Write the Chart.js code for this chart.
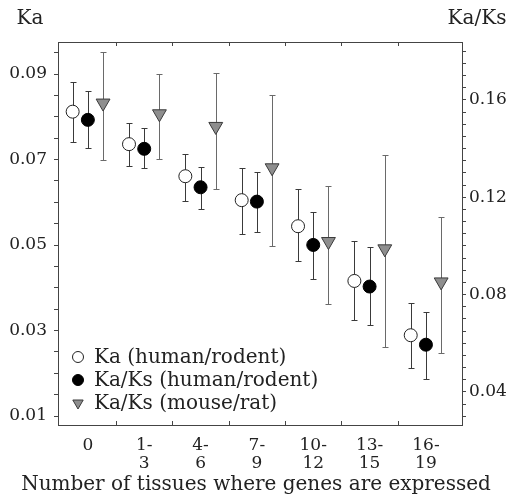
<!DOCTYPE html>
<html>
<head>
<meta charset="utf-8">
<script src="https://cdn.jsdelivr.net/npm/chart.js@4/dist/chart.umd.min.js"></script>
<style>
  html, body { margin: 0; padding: 0; background: #fff; }
  #wrap { width: 511px; height: 497px; }
</style>
</head>
<body>
<div id="wrap"><canvas id="c"></canvas></div>
<script>
// ── Data ────────────────────────────────────────────
const categories = [['0'], ['1-', '3'], ['4-', '6'], ['7-', '9'], ['10-', '12'], ['13-', '15'], ['16-', '19']];

// Ka (human/rodent) — left axis
const kaHR     = [0.0812, 0.0736, 0.0661, 0.0605, 0.0544, 0.0416, 0.0289];
const kaHRLo   = [0.0740, 0.0686, 0.0604, 0.0526, 0.0463, 0.0325, 0.0212];
const kaHRHi   = [0.0882, 0.0785, 0.0713, 0.0681, 0.0630, 0.0509, 0.0365];

// Ka/Ks (human/rodent) — right axis
const kaksHR   = [0.1518, 0.1399, 0.1241, 0.1182, 0.1004, 0.0833, 0.0594];
const kaksHRLo = [0.1404, 0.1322, 0.1151, 0.1059, 0.0863, 0.0675, 0.0452];
const kaksHRHi = [0.1637, 0.1484, 0.1323, 0.1305, 0.1141, 0.0995, 0.0730];

// Ka/Ks (mouse/rat) — right axis
const kaksMR   = [0.1587, 0.1543, 0.1491, 0.1321, 0.1018, 0.0988, 0.0852];
const kaksMRLo = [0.1353, 0.1356, 0.1234, 0.1001, 0.0762, 0.0586, 0.0559];
const kaksMRHi = [0.1796, 0.1706, 0.1710, 0.1621, 0.1247, 0.1374, 0.1120];

const leftTickLabels  = ['0.01', '0.03', '0.05', '0.07', '0.09'];
const rightTickLabels = ['0.04', '0.08', '0.12', '0.16'];

const seriesNames = ['Ka (human/rodent)', 'Ka/Ks (human/rodent)', 'Ka/Ks (mouse/rat)'];
const xTitle = 'Number of tissues where genes are expressed';

// ── Helpers ─────────────────────────────────────────
const FONT = '"DejaVu Serif", serif';
const INK  = '#222';
const AXIS = '#444';

function pts(vals, off) { return vals.map((v, i) => ({ x: i + off, y: v })); }

function minorTicks(from, to, step) {
  const out = [];
  for (let v = from; v <= to + 1e-9; v += step) out.push({ value: +v.toFixed(4) });
  return out;
}

// error bars, frame, titles, legend
const errorBars = {
  id: 'errorBars',
  beforeDatasetsDraw(chart) {
    const { ctx } = chart;
    const xs = chart.scales.x;
    chart.data.datasets.forEach(ds => {
      const ys = chart.scales[ds.yAxisID];
      ctx.save();
      ctx.strokeStyle = ds.barColor;
      ctx.lineWidth = 1;
      ds.data.forEach((p, i) => {
        const x  = Math.round(xs.getPixelForValue(p.x)) + 0.5;
        const y1 = Math.round(ys.getPixelForValue(ds.errLo[i])) + 0.5;
        const y2 = Math.round(ys.getPixelForValue(ds.errHi[i])) + 0.5;
        ctx.beginPath();
        ctx.moveTo(x, y1); ctx.lineTo(x, y2);
        ctx.moveTo(x - 3, y1); ctx.lineTo(x + 3, y1);
        ctx.moveTo(x - 3, y2); ctx.lineTo(x + 3, y2);
        ctx.stroke();
      });
      ctx.restore();
    });
  },
  afterDraw(chart) {
    const { ctx, chartArea: a } = chart;
    const xs = chart.scales.x;
    ctx.save();
    // top frame line
    ctx.strokeStyle = AXIS;
    ctx.lineWidth = 1;
    ctx.beginPath();
    ctx.moveTo(a.left, a.top + 0.5); ctx.lineTo(a.right, a.top + 0.5);
    // group separators on top / bottom edges
    for (let i = 0; i < categories.length - 1; i++) {
      const x = Math.round(xs.getPixelForValue(i + 0.5)) + 0.5;
      ctx.moveTo(x, a.top); ctx.lineTo(x, a.top + 4);
      ctx.moveTo(x, a.bottom); ctx.lineTo(x, a.bottom - 4);
    }
    ctx.stroke();

    // axis titles
    ctx.fillStyle = INK;
    ctx.font = `20px ${FONT}`;
    ctx.textBaseline = 'middle';
    ctx.textAlign = 'center';
    ctx.fillText('Ka', 30, 19);
    ctx.fillText('Ka/Ks', 477, 19);
    ctx.fillText(xTitle, 256, 485);

    // legend inside plot, lower left
    const rows = [357, 380, 403];
    chart.data.datasets.forEach((ds, di) => {
      const y = rows[di];
      ctx.fillStyle = ds.pointBackgroundColor;
      ctx.strokeStyle = ds.pointBorderColor;
      ctx.lineWidth = 1;
      Chart.helpers.drawPoint(ctx, {
        pointStyle: ds.pointStyle, radius: ds.pointStyle === 'triangle' ? 6 : 5.5,
        rotation: ds.pointRotation || 0, borderWidth: 1
      }, 78, y);
      ctx.fillStyle = INK;
      ctx.textAlign = 'left';
      ctx.fillText(ds.label, 94, y + 1);
    });
    ctx.restore();
  }
};

// ── Chart ───────────────────────────────────────────
new Chart(document.getElementById('c'), {
  type: 'scatter',
  data: {
    datasets: [
      {
        label: seriesNames[0], data: pts(kaHR, -0.27), yAxisID: 'y',
        errLo: kaHRLo, errHi: kaHRHi, barColor: '#3a3a3a',
        pointStyle: 'circle', pointRadius: 6.5,
        pointBackgroundColor: '#fff', pointBorderColor: '#222', pointBorderWidth: 1
      },
      {
        label: seriesNames[1], data: pts(kaksHR, 0), yAxisID: 'y1',
        errLo: kaksHRLo, errHi: kaksHRHi, barColor: '#3a3a3a',
        pointStyle: 'circle', pointRadius: 6.5,
        pointBackgroundColor: '#000', pointBorderColor: '#000', pointBorderWidth: 1
      },
      {
        label: seriesNames[2], data: pts(kaksMR, 0.27), yAxisID: 'y1',
        errLo: kaksMRLo, errHi: kaksMRHi, barColor: '#6a6a6a',
        pointStyle: 'triangle', pointRotation: 180, pointRadius: 8,
        pointBackgroundColor: '#8e8e8e', pointBorderColor: '#3a3a3a', pointBorderWidth: 1
      }
    ]
  },
  options: {
    responsive: true,
    maintainAspectRatio: false,
    animation: false,
    layout: { padding: { top: 42, left: 0, right: 0, bottom: 0 } },
    plugins: { legend: { display: false }, tooltip: { enabled: false } },
    scales: {
      x: {
        type: 'linear', position: 'bottom',
        min: -0.53, max: 6.64,
        afterBuildTicks: s => { s.ticks = categories.map((_, i) => ({ value: i })); },
        afterFit: s => { s.height = 72; },
        grid: { display: false },
        border: { display: true, color: AXIS },
        ticks: {
          callback: v => categories[v], color: INK, padding: 3,
          font: { family: FONT, size: 17, lineHeight: 1.08 }, maxRotation: 0
        }
      },
      y: {
        position: 'left', min: 0.0079, max: 0.0975,
        afterBuildTicks: s => { s.ticks = minorTicks(0.01, 0.095, 0.005); },
        afterFit: s => { s.width = 58; },
        grid: { drawOnChartArea: false, color: AXIS, tickLength: 4 },
        border: { color: AXIS },
        ticks: {
          autoSkip: false, color: INK, padding: 7,
          font: { family: FONT, size: 17 },
          callback: v => leftTickLabels.find(t => Math.abs(+t - v) < 1e-6) || ''
        }
      },
      y1: {
        position: 'right', min: 0.0264, max: 0.1838,
        afterBuildTicks: s => { s.ticks = minorTicks(0.03, 0.18, 0.005); },
        afterFit: s => { s.width = 49; },
        grid: { drawOnChartArea: false, color: AXIS, tickLength: 4 },
        border: { color: AXIS },
        ticks: {
          autoSkip: false, color: INK, padding: 3,
          font: { family: FONT, size: 17 },
          callback: v => rightTickLabels.find(t => Math.abs(+t - v) < 1e-6) || ''
        }
      }
    }
  },
  plugins: [errorBars]
});
</script>
</body>
</html>
